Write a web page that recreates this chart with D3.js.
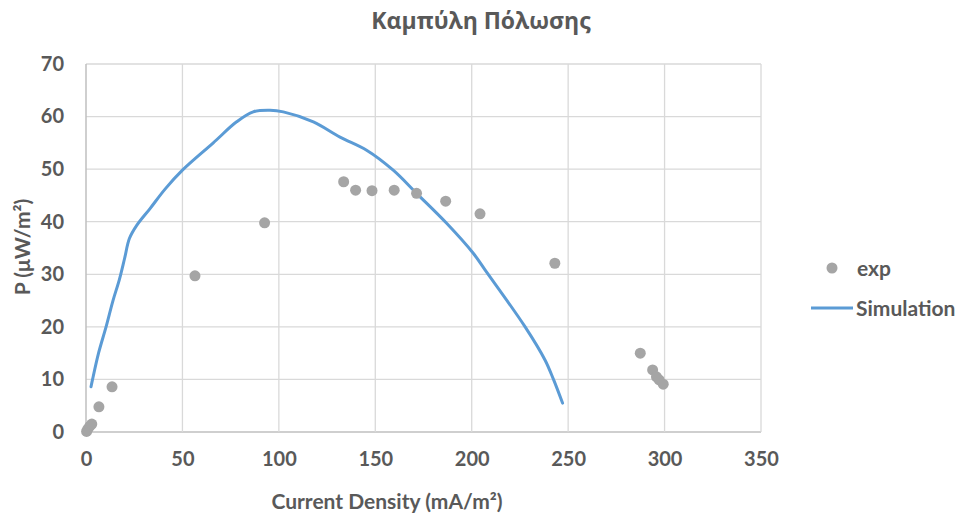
<!DOCTYPE html>
<html><head><meta charset="utf-8">
<script src="https://cdn.jsdelivr.net/npm/d3@7"></script>
<style>body{margin:0;background:#fff}svg{display:block}</style>
</head><body>
<svg id="c" width="962" height="517"></svg>
<script>
const title = "Καμπύλη Πόλωσης";
const xLabel = "Current Density (mA/m²)";
const yLabel = "P (μW/m²)";
const xTicks = [0,50,100,150,200,250,300,350];
const yTicks = [0,10,20,30,40,50,60,70];
const expX = [0.3,1,2,3,6.7,13.5,56.5,92.6,133.6,139.8,148.3,159.8,171.4,186.5,204.3,243.1,287.4,293.8,295.8,297.2,299.3];
const expY = [0.1,0.6,1.1,1.5,4.8,8.6,29.7,39.8,47.6,46.0,45.9,46.0,45.4,43.9,41.5,32.1,15.0,11.8,10.5,9.9,9.1];
const simX = [2.6,3.4,6.5,10.4,14,17.3,20,22.5,26.3,33.2,41,50,66,78.1,86.7,95.4,102.3,117.9,131.7,145.5,159.3,171.4,187,200.8,207,227.7,238,242.4,247.1];
const simY = [8.6,10,15,20,25,29,33,36.8,39.3,42.5,46.2,49.8,55,59,60.9,61.2,60.9,59,56.1,53.6,49.8,45.4,39.7,34,30.8,20,13.7,10,5.5];
const seriesNames = ["exp","Simulation"];

const svg = d3.select("#c");
const x = d3.scaleLinear().domain([0,350]).range([86,761]);
const y = d3.scaleLinear().domain([0,70]).range([432,64]);
const txt = "#595959";

// gridlines
svg.append("g").selectAll("line").data(yTicks).join("line")
  .attr("x1",x(0)).attr("x2",x(350)).attr("y1",d=>y(d)).attr("y2",d=>y(d))
  .attr("stroke",d=>d===0?"#bfbfbf":"#d9d9d9").attr("stroke-width",d=>d===0?1.5:1.3);
svg.append("g").selectAll("line").data(xTicks).join("line")
  .attr("y1",y(0)).attr("y2",y(70)).attr("x1",d=>x(d)).attr("x2",d=>x(d))
  .attr("stroke",d=>d===0?"#bfbfbf":"#d9d9d9").attr("stroke-width",d=>d===0?1.5:1.3);

const font = "Lato, 'Noto Sans', sans-serif";
const gx = svg.append("g").attr("transform",`translate(0,${y(0)})`)
  .call(d3.axisBottom(x).tickValues(xTicks).tickSize(0).tickPadding(20).tickFormat(d3.format("d")));
const gy = svg.append("g").attr("transform",`translate(${x(0)},0)`)
  .call(d3.axisLeft(y).tickValues(yTicks).tickSize(0).tickPadding(22).tickFormat(d3.format("d")));
[gx,gy].forEach(g=>{
  g.select(".domain").remove();
  g.selectAll("text").attr("fill",txt).style("font-family",font).style("font-size","20px").style("font-weight","bold");
});

// simulation line
const line = d3.line().x(d=>x(d[0])).y(d=>y(d[1])).curve(d3.curveCatmullRom.alpha(0.5));
svg.append("path").datum(simX.map((v,i)=>[v,simY[i]]))
  .attr("d",line).attr("fill","none").attr("stroke","#5b9bd5").attr("stroke-width",3).attr("stroke-linecap","round");

// exp points
svg.append("g").selectAll("circle").data(expX.map((v,i)=>[v,expY[i]])).join("circle")
  .attr("cx",d=>x(d[0])).attr("cy",d=>y(d[1])).attr("r",5.5).attr("fill","#a5a5a5");

// title
svg.append("text").attr("x",481).attr("y",29).attr("text-anchor","middle")
  .attr("fill",txt).style("font-family","'Open Sans','Noto Sans',sans-serif").style("font-size","23px").style("font-weight","bold").text(title);
// axis titles
svg.append("text").attr("x",387).attr("y",509).attr("text-anchor","middle")
  .attr("fill",txt).style("font-family",font).style("font-size","21px").style("font-weight","bold").text(xLabel);
svg.append("text").attr("transform","translate(30,247) rotate(-90)").attr("text-anchor","middle")
  .attr("fill",txt).style("font-family",font).style("font-size","21px").style("font-weight","bold").text(yLabel);

// legend
svg.append("circle").attr("cx",832).attr("cy",268).attr("r",5.5).attr("fill","#a5a5a5");
svg.append("line").attr("x1",811).attr("x2",853).attr("y1",308).attr("y2",308).attr("stroke","#5b9bd5").attr("stroke-width",3);
svg.append("text").attr("x",857).attr("y",276).attr("fill",txt).style("font-family",font).style("font-size","21px").style("font-weight","bold").text(seriesNames[0]);
svg.append("text").attr("x",856).attr("y",316).attr("fill",txt).style("font-family",font).style("font-size","21px").style("font-weight","bold").text(seriesNames[1]);
</script>
</body></html>
